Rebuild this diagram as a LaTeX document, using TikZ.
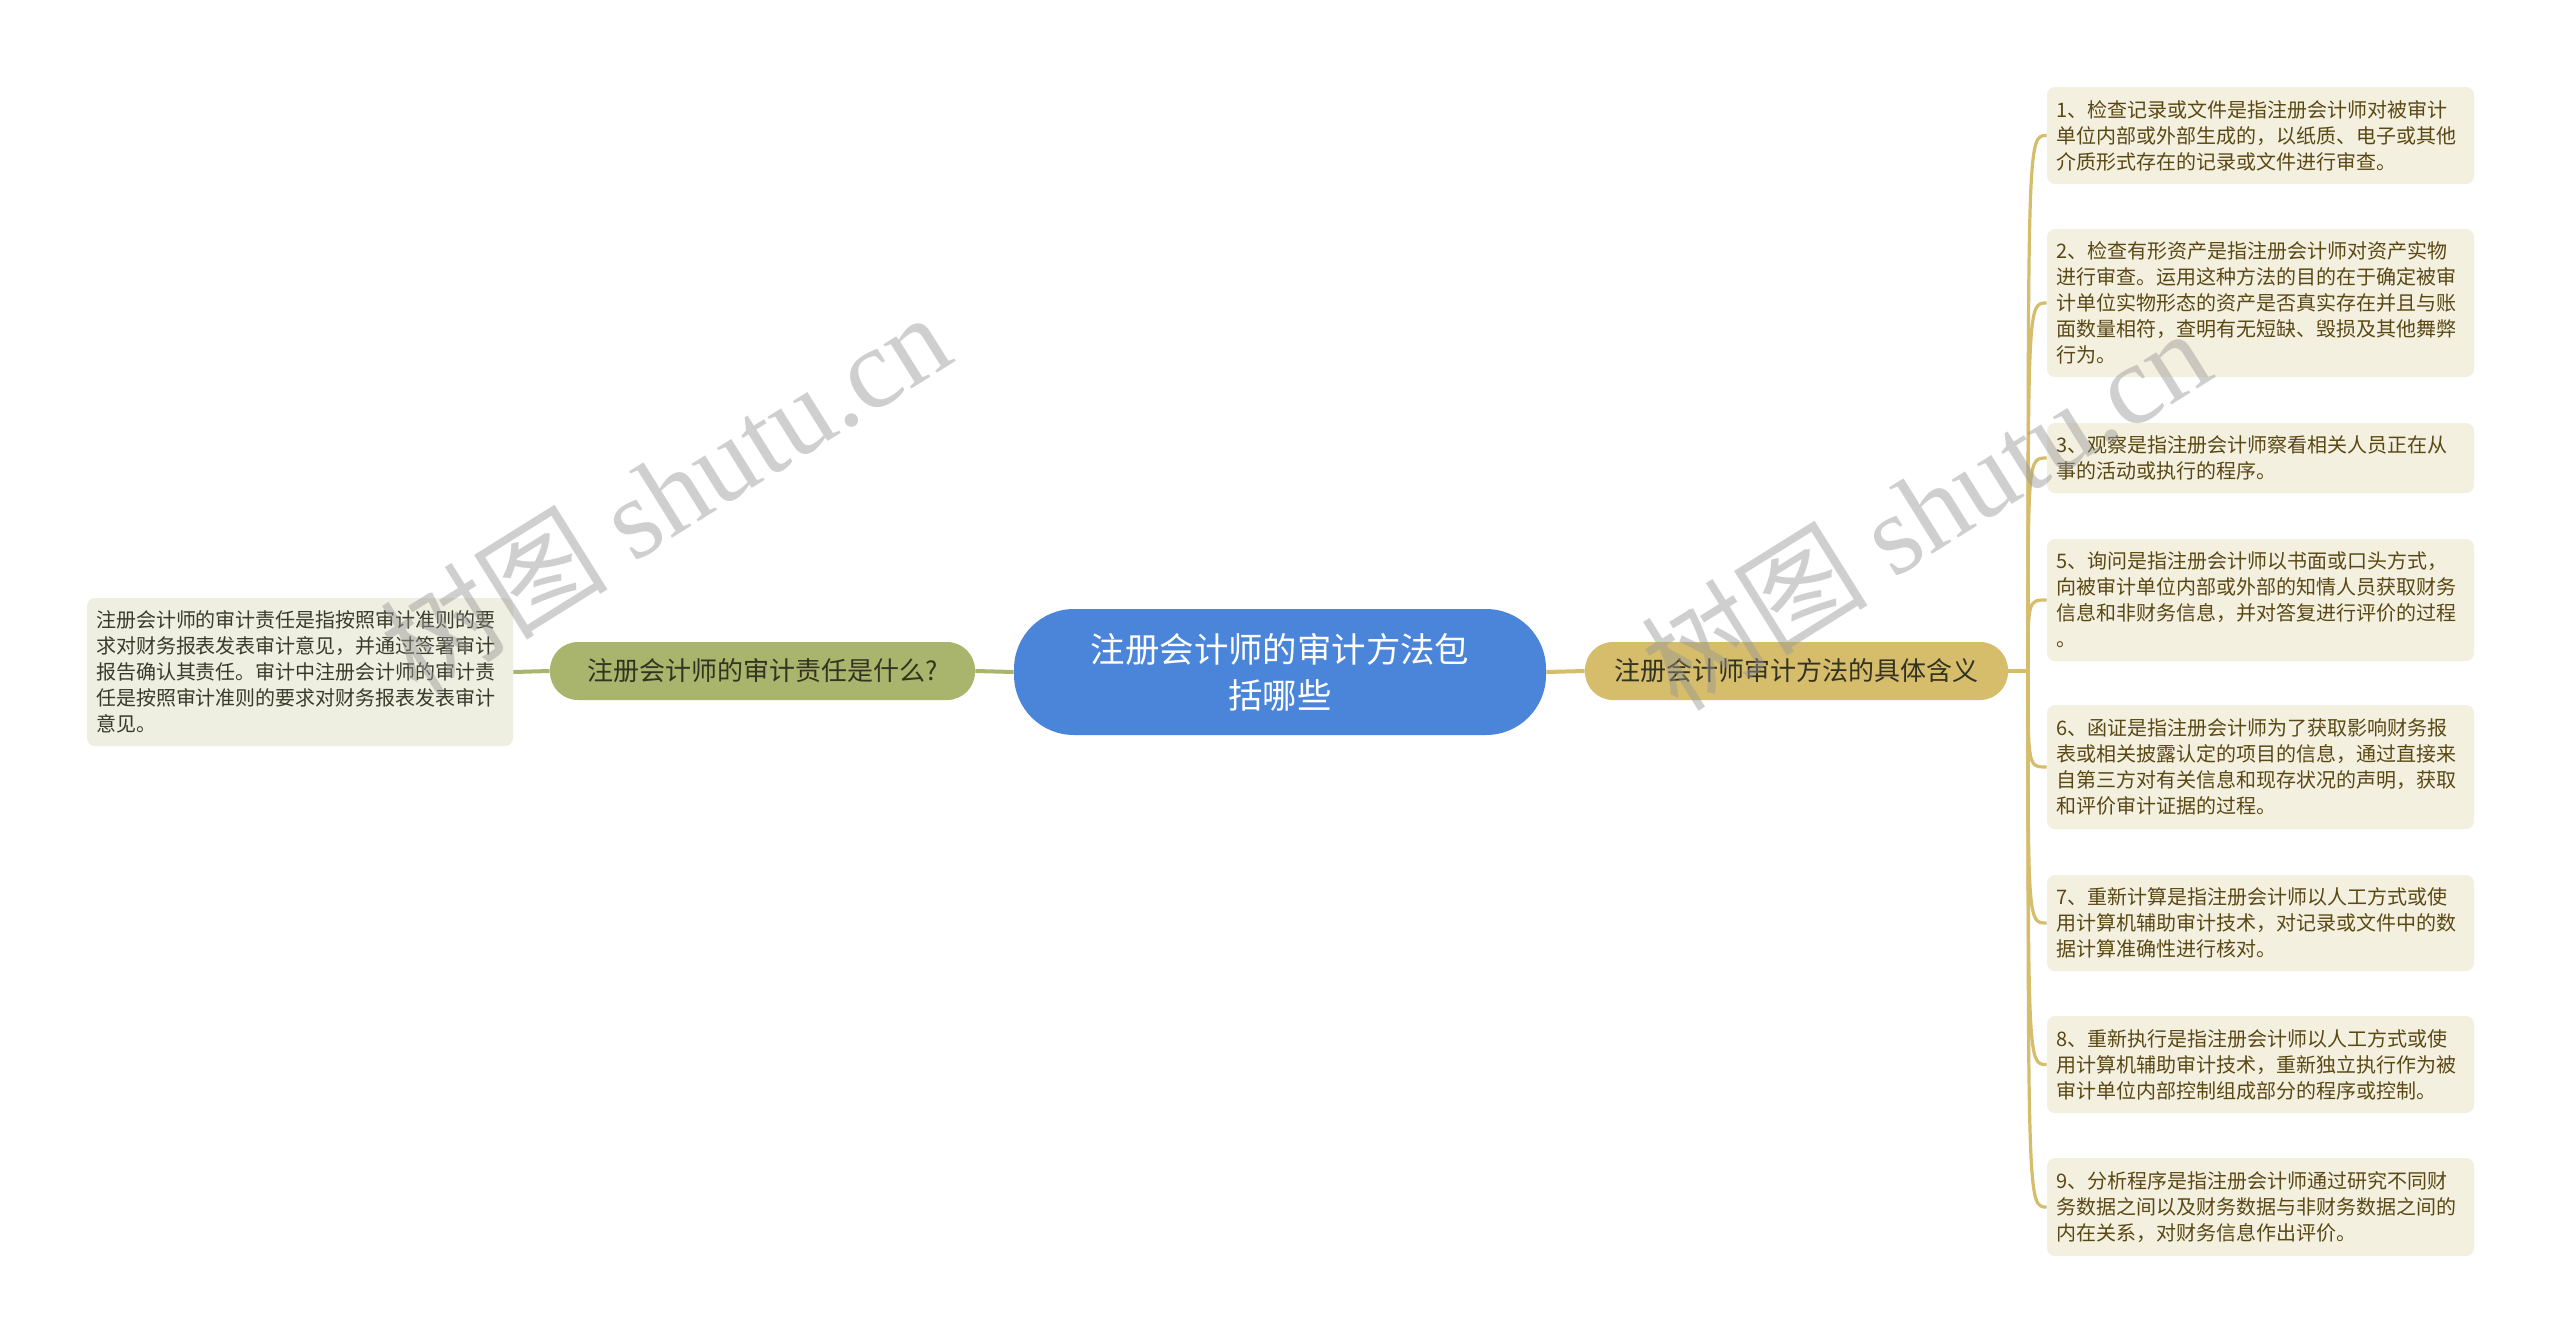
\documentclass[tikz,border=0pt]{standalone}
\usepackage{fontspec}
\setmainfont{Noto Sans CJK SC}
\newfontfamily\wmserif{Liberation Serif}
\usetikzlibrary{calc}
\definecolor{cblue}{HTML}{4B85DA}
\definecolor{ygold}{HTML}{D5BD6B}
\definecolor{golive}{HTML}{A9B56C}
\definecolor{rleafbg}{HTML}{F4F0DF}
\definecolor{lleafbg}{HTML}{EEEEE1}
\definecolor{rtext}{HTML}{5A4814}
\definecolor{ltext}{HTML}{3A3A2A}
\definecolor{topictext}{HTML}{333322}
\definecolor{wmgray}{HTML}{969696}
\begin{document}
\begin{tikzpicture}[x=0.5pt,y=-0.5pt,
  rleaf/.style={fill=rleafbg, rounded corners=4pt, text width=204pt, align=left,
    inner xsep=4.75pt, inner ysep=0pt, minimum width=213.5pt, text=rtext,
    font=\fontsize{10}{13}\selectfont, anchor=center},
  lleafst/.style={fill=lleafbg, rounded corners=4pt, text width=204pt, align=left,
    inner xsep=4.5pt, inner ysep=0pt, minimum width=213pt, text=ltext,
    font=\fontsize{10}{13}\selectfont, anchor=center},
  topic/.style={rounded corners=14pt, minimum height=29pt, inner sep=0pt,
    text=topictext, font=\fontsize{13}{16}\selectfont, anchor=center},
  yline/.style={draw=ygold, line width=2pt},
  gline/.style={draw=golive, line width=2pt},
  ycurve/.style={draw=ygold, line width=1.6pt},
  wm/.style={text=wmgray, text opacity=0.45, rotate=32, anchor=center, inner sep=0pt}
]
\useasboundingbox (0,0) rectangle (2560,1344);
\fill[white] (0,0) rectangle (2560,1344);

% central node
\node[fill=cblue, rounded corners=30pt, minimum width=266pt, minimum height=63pt,
  text=white, align=center, font=\fontsize{17.2}{23}\selectfont, inner sep=0pt]
  (center) at (1280,672) {注册会计师的审计方法包\\括哪些};

% topics
\node[topic, fill=ygold, minimum width=211.5pt] (rtopic) at (1796.5,671) {注册会计师审计方法的具体含义};
\node[topic, fill=golive, minimum width=212.5pt] (ltopic) at (762.5,671) {注册会计师的审计责任是什么?};

% left leaf
\node[lleafst, minimum height=74pt] (lleaf) at (300,672) {注册会计师的审计责任是指按照审计准则的要\\求对财务报表发表审计意见，并通过签署审计\\报告确认其责任。审计中注册会计师的审计责\\任是按照审计准则的要求对财务报表发表审计\\意见。};

% right leaves
\node[rleaf, minimum height=48.5pt] (r1) at (2260.5,135.5) {1、检查记录或文件是指注册会计师对被审计\\单位内部或外部生成的，以纸质、电子或其他\\介质形式存在的记录或文件进行审查。};
\node[rleaf, minimum height=74pt] (r2) at (2260.5,303) {2、检查有形资产是指注册会计师对资产实物\\进行审查。运用这种方法的目的在于确定被审\\计单位实物形态的资产是否真实存在并且与账\\面数量相符，查明有无短缺、毁损及其他舞弊\\行为。};
\node[rleaf, minimum height=35pt] (r3) at (2260.5,458) {3、观察是指注册会计师察看相关人员正在从\\事的活动或执行的程序。};
\node[rleaf, minimum height=61pt] (r5) at (2260.5,600) {5、询问是指注册会计师以书面或口头方式，\\向被审计单位内部或外部的知情人员获取财务\\信息和非财务信息，并对答复进行评价的过程\\。};
\node[rleaf, minimum height=62pt] (r6) at (2260.5,767) {6、函证是指注册会计师为了获取影响财务报\\表或相关披露认定的项目的信息，通过直接来\\自第三方对有关信息和现存状况的声明，获取\\和评价审计证据的过程。};
\node[rleaf, minimum height=48pt] (r7) at (2260.5,923) {7、重新计算是指注册会计师以人工方式或使\\用计算机辅助审计技术，对记录或文件中的数\\据计算准确性进行核对。};
\node[rleaf, minimum height=48.5pt] (r8) at (2260.5,1064.5) {8、重新执行是指注册会计师以人工方式或使\\用计算机辅助审计技术，重新独立执行作为被\\审计单位内部控制组成部分的程序或控制。};
\node[rleaf, minimum height=49pt] (r9) at (2260.5,1207) {9、分析程序是指注册会计师通过研究不同财\\务数据之间以及财务数据与非财务数据之间的\\内在关系，对财务信息作出评价。};

% connectors
\draw[gline] (center.west) -- (ltopic.east);
\draw[yline] (center.east) -- (rtopic.west);
\draw[gline] (ltopic.west) -- (lleaf.east);
\coordinate (rj) at (2028,671);
\draw[yline] (rtopic.east) -- (rj);
\foreach \n in {r1,r2,r3,r5,r6,r7,r8,r9}{
  \draw[ycurve] (rj) .. controls (rj |- \n.west) .. (\n.west);
}

% watermarks
\node[wm] (wm1) at (665,492) {\fontsize{57}{57}\selectfont 树图 {\wmserif shutu.cn}};
\node[wm] (wm2) at (1925,508) {\fontsize{57}{57}\selectfont 树图 {\wmserif shutu.cn}};
\end{tikzpicture}
\end{document}
